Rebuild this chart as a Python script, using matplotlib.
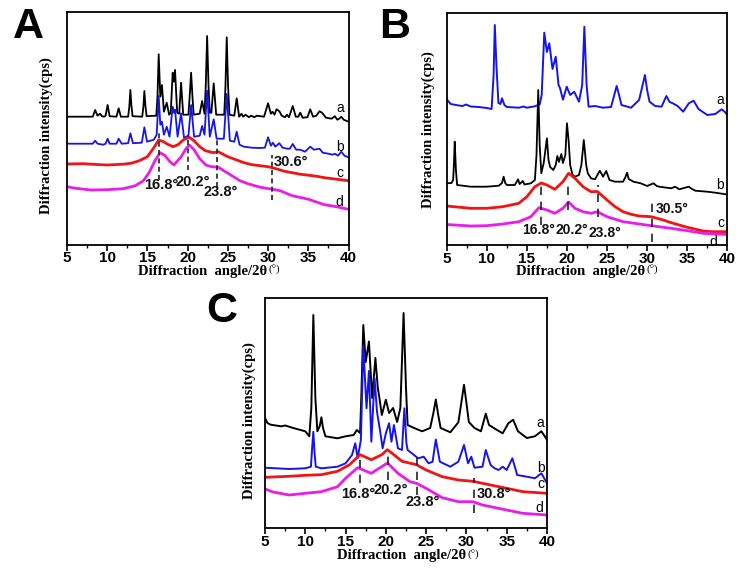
import matplotlib
matplotlib.use('Agg')
import matplotlib.pyplot as plt
from matplotlib.ticker import MultipleLocator

W, H = 742, 577
SANS = 'Liberation Sans'
SERIF = 'Liberation Serif'
plt.rcParams['font.family'] = [SANS, 'DejaVu Sans']

# ---------------- data (2θ in degrees, intensity in arbitrary units) ----------------
A_a = [(5,130),(8.2,130),(8.5,136.7),(8.8,131),(9.1,133),(9.35,130.5),(9.6,130),(9.8,131),(10.05,141.7),(10.3,130.5),
       (11.15,130),(11.42,138.4),(11.7,130),(12.6,130),(12.75,140),(12.88,156.7),(13.0,142),(13.15,130.5),(14.35,130),
       (14.5,140),(14.62,155.7),(14.75,141),(14.9,130.5),
       (16.1,131),(16.25,150),(16.4,192.4),(16.6,150),(16.8,161.7),(17.05,135),(17.4,144),(17.7,132),(17.9,134),(18.14,174),(18.3,165),
       (18.43,176.7),(18.7,134),(18.95,133),(19.18,164),(19.45,132),(20.1,132),(20.25,150),(20.43,174),(20.6,150),(20.75,132),(21.5,133),(21.8,145.7),
       (22.1,133),(22.25,160),(22.42,210.7),(22.6,160),(22.75,134),(22.95,134),(23.24,163.4),(23.55,132),(24.55,132),(24.7,160),(24.86,209.4),
       (25.03,160),(25.2,132),
       (25.8,131),(26.1,148.4),(26.4,130),(26.7,133),(26.9,130),(27.2,132),(27.6,129.5),(27.9,131),(28.3,129.5),(28.6,131),
       (29.5,130),(30.0,143.4),(30.35,133),(30.55,135),(30.8,132),(31.05,137.4),(31.4,135.5),(31.7,131),(32.1,129.5),
       (32.35,132),(32.6,129.5),(33.07,140.7),(33.45,130),(33.75,130),(34.0,134),(34.3,129),(34.9,129.5),(35.24,137.4),
       (35.6,130),(36.0,131),(36.4,135.5),(36.7,134),(37.2,129),(37.9,128),(38.3,130.5),(38.6,127),(38.85,128),(39.1,130),
       (39.4,127),(40,125)]
A_b = [(5,103),(8.2,103),(8.5,106),(8.8,103),(9.5,102),(9.8,103),(10.05,108),(10.3,103),(11.15,103),(11.42,108),(11.8,103),
       (12.6,103.5),(12.88,113.4),(13.2,103.5),(14.3,104),(14.62,119.4),(14.95,105),(15.8,107),(16.15,112),(16.4,150.7),
       (16.6,122),(16.8,125),(17.05,112),(17.4,120),(17.75,110),(18.14,140),(18.3,134),(18.43,137),(18.75,110),(19.18,133.4),
       (19.55,109),(20.1,111),(20.43,141.7),(20.8,110),(21.5,111),(21.8,120.7),(22.1,112),(22.42,156),(22.75,110),(23.24,127.4),
       (23.6,108),(24.5,108),(24.86,152.7),(25.25,106),(25.8,105),(26.1,115),(26.45,102),(27,100),(28,99),(29,98.7),(29.6,99),
       (30.0,109.4),(30.35,101),(30.6,104),(30.9,100),(31.4,103.5),(31.8,99),(32.4,98),(32.7,98),(33.07,102.7),(33.5,97),
       (34.0,97),(34.6,95),(35.24,100),(35.7,97),(36.4,98),(36.8,94),(37.5,93),(38.0,92),(38.3,93),(38.7,91),(39.1,95),
       (39.5,91),(40,89.4)]
A_c = [(5,82.7),(7,83),(8,82.5),(10,81.7),(12,82.5),(13,83.5),(14,86),(15,90),(15.8,99),(16.4,106.7),(17,105),(17.5,102.5),
       (18.2,100),(18.8,102),(19.5,107),(20.2,109.4),(20.8,106),(21.5,100),(22.2,96),(23.2,94),(23.8,95),(24.5,92),(25,90),
       (26,87),(27,84),(28,82),(29,81),(30,80),(31,78),(32,75.5),(33,74),(34,72.5),(35,71.5),(36,70.5),(37,69),(38,68),
       (39,67),(40,66)]
A_d = [(5,60),(6,58.5),(8,56.7),(10,57),(12,58),(13.5,61),(14.5,66),(15.2,74),(16,87),(16.6,94),(17.2,91),(17.8,85),
       (18.3,81.7),(19.2,90),(19.8,98),(20.2,101.7),(20.8,97),(21.5,88),(22.3,81.5),(23,80),(23.8,79.5),(24.5,76),(25.5,71),
       (26.5,66),(27.5,63),(29,59.5),(30.5,57.5),(31.5,56),(33,51),(35,47.5),(37,42),(38.5,40),(40,37.4)]
A_marks = [(16.5, 66.7, 116.7), (20.1, 76.7, 111.7), (23.6, 60, 108.4), (30.5, 46.7, 91.7)]
A_notes = [("16.8°", 16.7, 61.7), ("20.2°", 20.6, 65), ("23.8°", 24.1, 55), ("30.6°", 32.9, 85)]
A_tags = [("a", 38.95, 139), ("b", 38.9, 99.5), ("c", 38.95, 74), ("d", 38.9, 45)]

B_a = [(5,145.7),(5.5,141),(6.5,139.5),(7,139),(7.4,140.5),(8,138.5),(9,138),(10,137),(10.6,136),(10.85,170),(11.0,220),
       (11.2,180),(11.45,142),(11.7,141),(11.9,146.7),(12.2,140),(12.5,138),(14,137.3),(14.6,138.5),(15,137.3),(16,138.7),
       (16.6,140.7),(16.85,150),(17.17,212.3),(17.5,193),(17.8,201.7),(18.2,176),(18.6,188.3),(18.95,160),(19.14,156.7),
       (19.5,145.3),(19.97,158.3),(20.4,150),(20.9,153.3),(21.5,143.3),(21.9,160),(22.17,218.3),(22.45,160),(22.7,138.3),
       (23.5,139),(24.5,137.3),(25.5,138),(25.9,150),(26.2,159),(26.5,150),(26.8,140),(28,137.3),(29,145),(29.73,170),
       (30.0,155),(30.3,143.3),(31,139),(31.8,138.3),(32.4,149),(32.8,143),(33.2,141.7),(33.8,139),(34.5,133.3),(35.2,141.7),
       (35.8,144.3),(36.4,136),(37.5,130),(38.5,131),(39.3,135.7),(39.7,133),(40,130)]
B_b = [(5,61.7),(5.6,62),(5.8,65),(5.9,80),(6.0,103.3),(6.15,75),(6.3,60),(8,58.3),(10,58.3),(11.5,59.3),(11.9,62),
       (12.1,68.3),(12.3,62),(12.5,60),(13.5,60),(13.9,65.7),(14.1,61),(14.5,64),(14.7,60.5),(15.5,61.7),(16.0,65),
       (16.2,90),(16.42,155),(16.6,100),(16.8,71.7),(17.1,82),(17.5,106.7),(17.7,85),(17.9,78),(18.3,75),(18.6,80),
       (18.8,89),(19.0,83),(19.3,91),(19.5,82),(19.8,90),(20.0,121.7),(20.2,105),(20.4,80),(20.7,70),(21,68.3),(21.5,70),
       (21.8,80),(22.1,105),(22.4,80),(22.6,71.7),(23,66.7),(23.5,65.7),(24.1,74.3),(24.5,68.3),(24.9,74),(25.3,65),
       (26,63.3),(27,63.3),(27.3,68),(27.5,72.3),(27.7,66),(28.3,63.3),(29.2,61.7),(30,59),(30.8,61.7),(31.2,59),(31.5,58.3),
       (33,56.7),(33.5,58.3),(34,55.7),(35.2,58.3),(35.6,56),(36,54.3),(37.5,53.3),(38.5,52.3),(40,50.5)]
B_c = [(5,39),(8,36.7),(10,36.7),(12,38.3),(14,41.7),(15,48.3),(16,58.3),(16.8,62),(17.5,60),(18.5,55.7),(19.5,63.3),
       (20.2,71.7),(21,66.7),(22,58.3),(23,53.3),(23.8,53.5),(25,45),(26,38.3),(27,33.3),(28,30.7),(29,29),(30.5,28.3),
       (32,25),(33,22.3),(35,17.7),(37,14),(38,13.3),(40,13.3)]
B_d = [(5,20.5),(8,19),(10,19.3),(12,21),(14,23.3),(15.5,28.3),(16.5,37.3),(17.5,35),(18.5,31.7),(19.5,36.7),(20.2,43),
       (21,36.7),(22,33.3),(23,31.7),(23.8,33.3),(25,28.3),(27,23.3),(29,21),(30.5,19.3),(33,16.7),(35,14.3),(37,11.7),
       (40,10.5)]
B_marks = [(16.72, 20, 62), (20.17, 35, 62), (23.9, 28, 60), (30.56, 3, 47)]
B_notes = [("16.8°", 16.45, 15), ("20.2°", 20.6, 15), ("23.8°", 24.7, 12.3), ("30.5°", 33.1, 35.7)]
B_tags = [("a", 39.07, 144.5), ("b", 39.07, 60), ("c", 39.25, 21.7), ("d", 38.24, 3)]

C_a = [(5,110),(5.3,105),(5.7,103.3),(7,101.7),(7.5,102.5),(8.5,100),(10,96.7),(10.5,91.7),(10.75,120),(11.0,213),
       (11.25,130),(11.5,96.7),(11.8,102),(12.0,110.7),(12.2,100),(12.5,91.7),(14,89.7),(15,91.7),(16,93),(16.4,98),
       (16.8,95),(16.95,130),(17.2,203),(17.5,166),(17.9,186.5),(18.3,130),(18.7,170),(19.0,140),(19.2,130),(19.5,113),
       (20.0,128.3),(20.4,115),(20.9,120),(21.4,106),(21.8,120),(22.2,215),(22.5,140),(22.7,103),(23.5,100),(24.5,96.7),
       (25.5,100),(25.9,115),(26.2,128.5),(26.5,113),(26.8,100),(28,95.7),(29,105.7),(29.7,143.2),(30.0,125),(30.3,106),
       (31,100),(31.8,96.7),(32.4,114.3),(32.8,103),(33.8,98),(34.5,94.7),(35.2,104.7),(35.8,108.2),(36.4,96.7),(37.5,90),
       (38.5,91.7),(39.3,96.7),(39.7,92),(40,88)]
C_b = [(5,60.3),(8,59),(10,59.7),(10.7,61.3),(10.85,80),(11.0,96.3),(11.15,75),(11.3,61.3),(12,59.7),(14,61.3),(15,64.7),
       (15.8,73),(16.2,84.7),(16.5,70),(16.9,88),(17.2,182),(17.6,119.7),(17.9,157),(18.2,86.3),(18.6,149.7),(18.9,116.3),
       (19.3,96.3),(19.6,79.7),(20.0,94.7),(20.4,104.7),(20.7,86.3),(21,103),(21.5,79.7),(22.0,78),(22.3,119.7),(22.55,85),
       (22.7,78),(23.5,73),(24.0,69.7),(24.7,71.3),(25.3,64.7),(25.8,66.3),(26.2,88.5),(26.7,66.3),(28,61.3),(29,66.3),
       (29.7,83),(30.2,64.7),(30.6,71.3),(31.0,60.3),(32,61.3),(32.4,78),(33.0,63),(33.5,59.7),(34,58),(34.5,61.3),(35,58),
       (35.7,69.7),(36.3,53),(37.5,51.3),(38.5,49.7),(39.3,54.7),(40,44.7)]
C_c = [(5,50.7),(8,51.7),(10,52.7),(12,53.3),(14,56.7),(15.5,63.3),(16.8,73.3),(18.2,68.3),(19.5,73.3),(20.2,78.3),
       (21,73.3),(22,66.7),(23.8,63.3),(25,58),(27,51.3),(29,48),(30.8,46.7),(33,43),(35,39.7),(37,36.3),(40,34.7)]
C_d = [(5,39),(6,36),(8,33),(10,34.7),(12,36.3),(14,41.3),(15,49.7),(16.5,60.3),(18.2,54.7),(20.2,65),(21.5,54.7),
       (23,46.3),(23.8,44.7),(25,39.7),(27,30.3),(29,26.3),(30.8,26.3),(32,23),(35,18),(37,14.7),(40,13)]
C_marks = [(16.85, 45, 68), (20.24, 48, 75), (23.84, 33, 71), (30.92, 15, 50)]
C_notes = [("16.8°", 16.6, 33.5), ("20.2°", 20.6, 38), ("23.8°", 24.6, 26), ("30.8°", 33.4, 33.5)]
C_tags = [("a", 39.2, 105.3), ("b", 39.2, 59.7), ("c", 39.3, 43.5), ("d", 39.0, 20.5)]

x_ticks = [5, 10, 15, 20, 25, 30, 35, 40]
colors = {'black': '#000000', 'blue': '#1414ee', 'red': '#f01414', 'magenta': '#ea1cea'}


def rect(l, t, r, b):
    return [l / W, 1 - b / H, (r - l) / W, (b - t) / H]


fig = plt.figure(figsize=(W / 100, H / 100), dpi=100)


def panel(box, ylim, curves, marks, dash, notes, note_size, tags, letter, letter_xy, ylab_xy, xlab_xy):
    ax = fig.add_axes(rect(*box))
    for pts, col, lw in curves:
        xs, ys = zip(*pts)
        ax.plot(xs, ys, color=colors[col], lw=lw, solid_joinstyle='round')
    for xm, y0, y1 in marks:
        ax.plot([xm, xm], [y0, y1], color='#222222', lw=1.2, ls=dash, zorder=4)
    for txt, xt, yt in notes:
        ax.text(xt, yt, txt, ha='center', va='center', fontsize=note_size, fontweight='bold',
                family=SANS, color='#111111', zorder=5)
    for txt, xt, yt in tags:
        ax.text(xt, yt, txt, ha='center', va='center', fontsize=10, family=SANS, zorder=5)
    ax.set_xlim(5, 40)
    ax.set_ylim(*ylim)
    ax.set_xticks(x_ticks)
    ax.set_xticklabels([str(v) for v in x_ticks], fontweight='bold', fontsize=11, family=SANS)
    ax.xaxis.set_minor_locator(MultipleLocator(2.5))
    ax.tick_params(axis='x', which='major', direction='out', length=4, width=1.2, pad=1.0)
    ax.tick_params(axis='x', which='minor', direction='out', length=2.5, width=1.0)
    ax.tick_params(axis='y', left=False, labelleft=False)
    for s in ax.spines.values():
        s.set_linewidth(1.3)
    fig.text(letter_xy[0] / W, 1 - letter_xy[1] / H, letter, ha='center', va='center',
             fontsize=31, fontweight='bold', family=SANS)
    fig.text(ylab_xy[0] / W, 1 - ylab_xy[1] / H, 'Diffraction intensity(cps)', rotation=90,
             ha='center', va='center', fontsize=10.5, fontweight='bold', family=SERIF)
    t = fig.text(xlab_xy[0] / W, 1 - xlab_xy[1] / H, 'Diffraction  angle/2θ', ha='center', va='center',
                 fontsize=10.5, fontweight='bold', family=SERIF)
    return ax, t


axA, tA = panel((67, 12, 348.5, 244.5), (2.2, 234.7),
                [(A_a, 'black', 1.3), (A_b, 'blue', 1.3), (A_c, 'red', 2.0), (A_d, 'magenta', 2.0)],
                A_marks, (0, (3, 2)), A_notes, 10.5, A_tags, 'A', (28.5, 27.5), (46, 136), (203, 271))
axB, tB = panel((446.7, 13, 727.3, 245), (0, 232),
                [(B_a, 'blue', 1.4), (B_b, 'black', 1.3), (B_c, 'red', 2.0), (B_d, 'magenta', 2.0)],
                B_marks, (0, (5, 4)), B_notes, 10, B_tags, 'B', (395, 27.5), (428, 130), (581, 271))
axC, tC = panel((265, 298, 547, 528), (0, 230),
                [(C_a, 'black', 1.4), (C_b, 'blue', 1.4), (C_c, 'red', 2.0), (C_d, 'magenta', 2.0)],
                C_marks, (0, (5, 4)), C_notes, 10.5, C_tags, 'C', (222, 311), (249, 421), (402, 556))

# place the small "(°)" right after each x-label
fig.canvas.draw()
for t in (tA, tB, tC):
    bb = t.get_window_extent()
    fig.text(bb.x1 / fig.dpi / fig.get_figwidth() + 0.001, (bb.y0 + 2.5) / fig.dpi / fig.get_figheight(),
             '(°)', fontsize=8, family=SERIF, ha='left', va='bottom')

fig.savefig('out.png', dpi=100)
